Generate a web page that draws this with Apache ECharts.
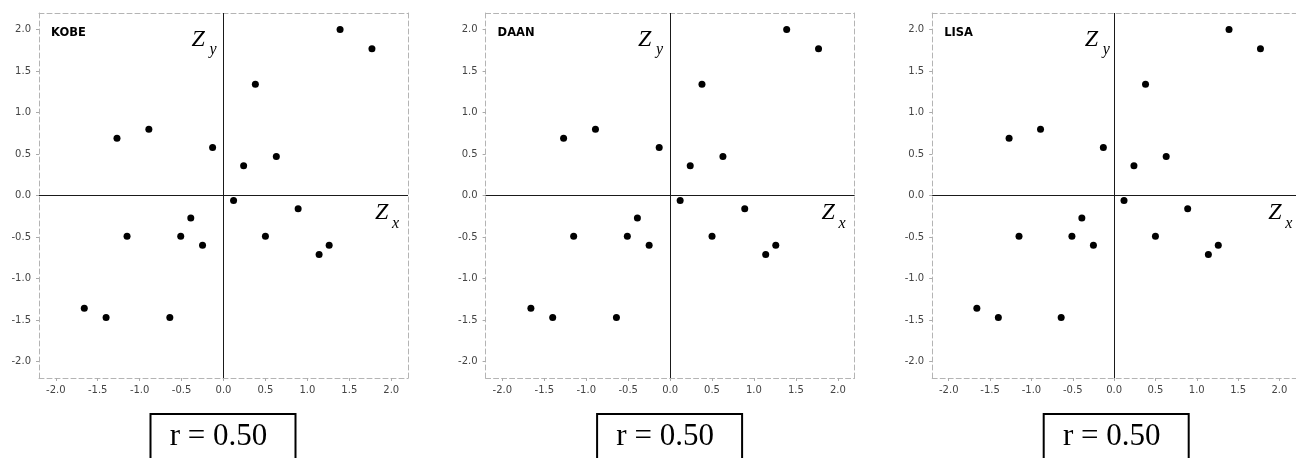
<!DOCTYPE html>
<html>
<head>
<meta charset="utf-8">
<script src="https://cdn.jsdelivr.net/npm/echarts@6/dist/echarts.min.js"></script>
<style>
  html, body { margin: 0; padding: 0; background: #fff; }
  #chart { width: 1296px; height: 458px; }
</style>
</head>
<body>
<div id="chart"></div>
<script>
// Standardised scores (z_x, z_y) for each observation, shown in three panels
const players = ['KOBE', 'DAAN', 'LISA'];
const rValues = [0.50, 0.50, 0.50];
const zx = [1.39, 1.77, 0.38, -1.27, -0.89, -0.13, 0.24, 0.63, 0.12, 0.89,
            -0.39, -1.15, -0.51, -0.25, 0.50, 1.14, 1.26, -1.66, -1.40, -0.64];
const zy = [2.00, 1.77, 1.34, 0.69, 0.80, 0.58, 0.36, 0.47, -0.06, -0.16,
            -0.27, -0.49, -0.49, -0.60, -0.49, -0.71, -0.60, -1.36, -1.47, -1.47];
const tickValues = [-2.0, -1.5, -1.0, -0.5, 0.0, 0.5, 1.0, 1.5, 2.0];
const axisMin = -2.2, axisMax = 2.2;

// panel layout (pixels)
const gridLeft0 = 39, gridStep = 446.6, gridTop = 13, gridW = 369, gridH = 365;

const chart = echarts.init(document.getElementById('chart'), null, { renderer: 'canvas' });

const dashed = { color: '#b4b4b4', width: 1, type: [5, 3] };
const labelFont = { fontFamily: 'DejaVu Sans', fontSize: 10, color: '#444' };

const grids = [], xAxes = [], yAxes = [], series = [], graphics = [];

players.forEach((name, i) => {
  const left = gridLeft0 + i * gridStep;
  grids.push({ left: left, top: gridTop, width: gridW, height: gridH, containLabel: false });

  // bottom axis with labels, plus a bare dashed top edge
  xAxes.push({
    gridIndex: i, type: 'value', position: 'bottom', min: axisMin, max: axisMax,
    axisLine: { show: true, onZero: false, lineStyle: dashed },
    axisTick: { show: true, length: 3, customValues: tickValues, lineStyle: { color: '#aaa' } },
    axisLabel: Object.assign({ margin: 7, customValues: tickValues,
      formatter: v => v.toFixed(1) }, labelFont),
    splitLine: { show: false }
  });
  xAxes.push({
    gridIndex: i, type: 'value', position: 'top', min: axisMin, max: axisMax,
    axisLine: { show: true, onZero: false, lineStyle: dashed },
    axisTick: { show: false }, axisLabel: { show: false }, splitLine: { show: false }
  });
  // left axis with labels, plus a bare dashed right edge
  yAxes.push({
    gridIndex: i, type: 'value', position: 'left', min: axisMin, max: axisMax,
    axisLine: { show: true, onZero: false, lineStyle: dashed },
    axisTick: { show: true, length: 3, customValues: tickValues, lineStyle: { color: '#aaa' } },
    axisLabel: Object.assign({ margin: 8, customValues: tickValues,
      formatter: v => v.toFixed(1) }, labelFont),
    splitLine: { show: false }
  });
  yAxes.push({
    gridIndex: i, type: 'value', position: 'right', min: axisMin, max: axisMax,
    axisLine: { show: true, onZero: false, lineStyle: dashed },
    axisTick: { show: false }, axisLabel: { show: false }, splitLine: { show: false }
  });

  series.push({
    type: 'scatter', name: name,
    xAxisIndex: 2 * i, yAxisIndex: 2 * i,
    symbol: 'circle', symbolSize: 7,
    itemStyle: { color: '#000', opacity: 1 },
    data: zx.map((v, k) => [v, zy[k]]),
    markLine: {
      silent: true, symbol: 'none', animation: false,
      label: { show: false },
      lineStyle: { color: '#1a1a1a', width: 1, type: 'solid' },
      data: [{ xAxis: 0 }, { yAxis: 0 }]
    }
  });

  const x0 = left + gridW / 2;          // pixel column of z_x = 0
  // panel name
  graphics.push({ type: 'text', left: left + 12, top: gridTop + 14,
    style: { text: name, font: 'bold 11.5px "DejaVu Sans"', fill: '#000' } });
  // axis letters Z_y and Z_x
  graphics.push({ type: 'text', x: x0 - 32, y: gridTop + 15,
    style: { text: 'Z', font: 'italic 24px "Liberation Serif"', fill: '#000', verticalAlign: 'top' } });
  graphics.push({ type: 'text', x: x0 - 14, y: gridTop + 29,
    style: { text: 'y', font: 'italic 16px "Liberation Serif"', fill: '#000', verticalAlign: 'top' } });
  graphics.push({ type: 'text', x: left + gridW - 33, y: gridTop + 188,
    style: { text: 'Z', font: 'italic 24px "Liberation Serif"', fill: '#000', verticalAlign: 'top' } });
  graphics.push({ type: 'text', x: left + gridW - 16, y: gridTop + 203,
    style: { text: 'x', font: 'italic 16px "Liberation Serif"', fill: '#000', verticalAlign: 'top' } });
  // correlation box
  graphics.push({ type: 'rect', shape: { x: x0 - 73, y: 414, width: 145, height: 60 },
    style: { fill: '#fff', stroke: '#000', lineWidth: 2 } });
  graphics.push({ type: 'text', x: x0 - 5, y: 437,
    style: { text: 'r = ' + rValues[i].toFixed(2), font: '31px "Liberation Serif"',
      fill: '#000', align: 'center', verticalAlign: 'middle' } });
});

chart.setOption({
  animation: false,
  backgroundColor: '#fff',
  grid: grids,
  xAxis: xAxes,
  yAxis: yAxes,
  series: series,
  graphic: graphics
});
</script>
</body>
</html>
